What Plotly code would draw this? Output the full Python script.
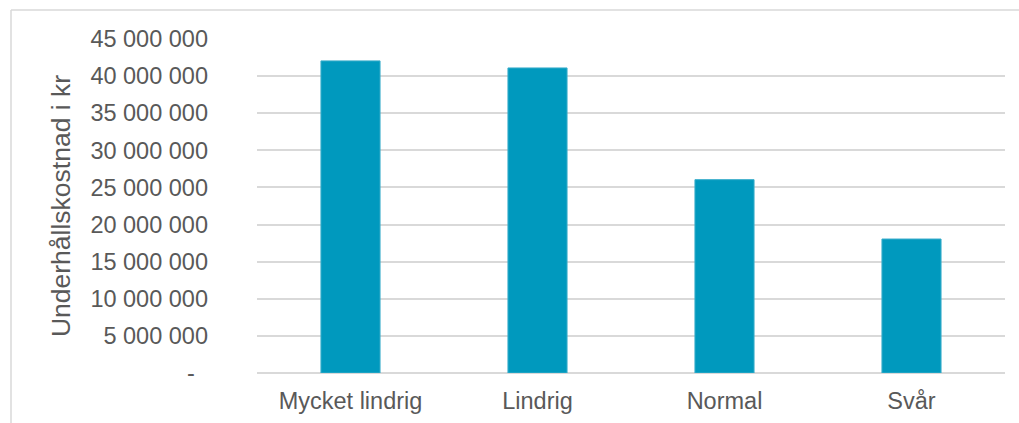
import plotly.graph_objects as go

categories = ["Mycket lindrig", "Lindrig", "Normal", "Svår"]
values = [42_050_000, 41_100_000, 26_050_000, 18_050_000]
tick_values = [0, 5_000_000, 10_000_000, 15_000_000, 20_000_000, 25_000_000,
               30_000_000, 35_000_000, 40_000_000, 45_000_000]
tick_labels = ["-\u00a0\u00a0", "5 000 000", "10 000 000", "15 000 000", "20 000 000",
               "25 000 000", "30 000 000", "35 000 000", "40 000 000", "45 000 000"]
y_title = "Underhållskostnad i kr"

W, H = 1019, 423
ML, MR, MT, MB = 257, 14, 39, 50
pw, ph = W - ML - MR, H - MT - MB

font_family = "Liberation Sans, Arial, sans-serif"
text_color = "#595959"
grid_color = "#D9D9D9"

fig = go.Figure(go.Bar(
    x=categories, y=values,
    marker=dict(color="#0099BE", line=dict(color="#3AADCB", width=1)),
    width=0.316,
))

# outer chart border (left and top visible)
bx0 = (11 - ML) / pw
by1 = (H - 10 - MB) / ph
fig.add_shape(type="line", xref="paper", yref="paper", x0=bx0, x1=(W + 5 - ML) / pw,
              y0=by1, y1=by1, line=dict(color=grid_color, width=1.5))
fig.add_shape(type="line", xref="paper", yref="paper", x0=bx0, x1=bx0,
              y0=by1, y1=(-MB - 5) / ph, line=dict(color=grid_color, width=1.5))

fig.update_layout(
    width=W, height=H,
    margin=dict(l=ML, r=MR, t=MT, b=MB, pad=0, autoexpand=False),
    paper_bgcolor="white", plot_bgcolor="white",
    font=dict(family=font_family, size=23.5, color=text_color),
    showlegend=False,
    bargap=0.684,
)
fig.update_xaxes(showgrid=False, showline=False, ticks="", ticklabelstandoff=11,
                 automargin=False, tickfont=dict(size=23.5, color=text_color))
fig.update_yaxes(range=[0, 45_000_000], tickvals=tick_values, ticktext=tick_labels,
                 showgrid=True, gridcolor=grid_color, gridwidth=1.5,
                 zeroline=True, zerolinecolor=grid_color, zerolinewidth=1.5,
                 showline=False, ticks="", ticklabelstandoff=48, automargin=False,
                 tickfont=dict(size=23.5, color=text_color),
                 title=dict(text=y_title, standoff=12, font=dict(size=26.5, color=text_color)))

fig.write_html("out.html")
